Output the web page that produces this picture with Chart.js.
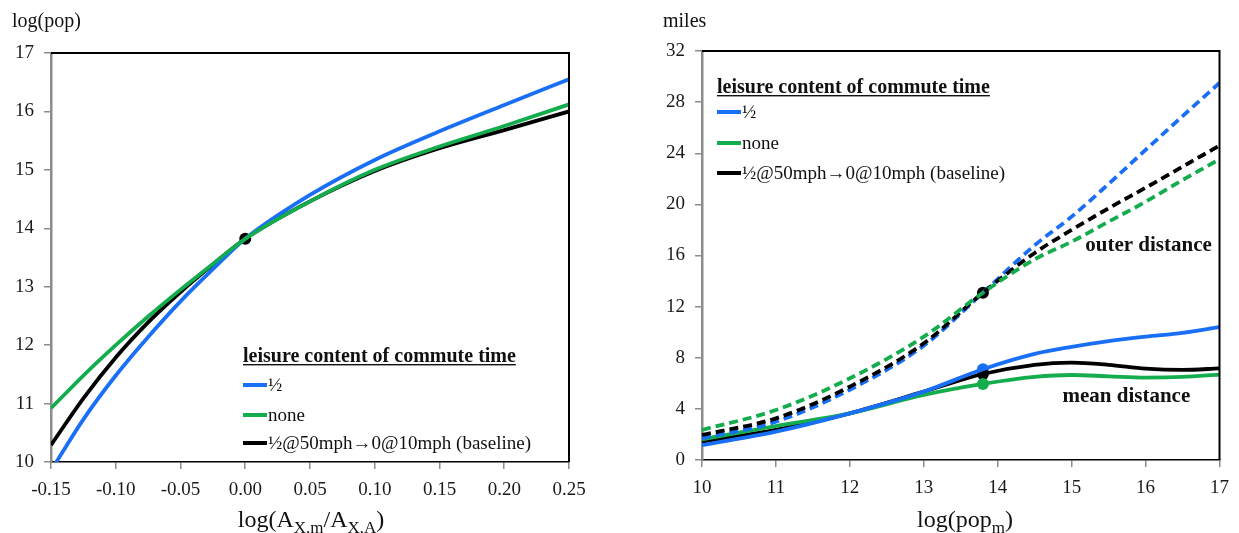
<!DOCTYPE html>
<html><head><meta charset="utf-8">
<script src="https://cdn.jsdelivr.net/npm/chart.js@4/dist/chart.umd.min.js"></script>
<style>
html,body{margin:0;padding:0;background:#fff;}
#wrap{position:relative;width:1239px;height:533px;overflow:hidden;}
.box{position:absolute;top:0;height:533px;}
</style></head><body>
<div id="wrap">
<div class="box" style="left:0;width:620px"><canvas id="c1"></canvas></div>
<div class="box" style="left:620px;width:619px"><canvas id="c2"></canvas></div>
</div>
<script>
// ---------- DATA ----------
const legendTitle = 'leisure content of commute time';
const seriesLabels = ['½', 'none', '½@50mph→0@10mph (baseline)'];
const seriesColors = ['#1a6ff7', '#14ad4e', '#000000'];

// Left chart: log(pop) vs log(A_X,m/A_X,A)
const leftX = [-0.15, -0.125, -0.10, -0.075, -0.05, -0.025, 0, 0.05, 0.10, 0.15, 0.20, 0.25];
const leftHalf = [9.85, 10.73, 11.48, 12.14, 12.75, 13.30, 13.82, 14.57, 15.17, 15.66, 16.11, 16.55];
const leftNone = [10.92, 11.48, 12.00, 12.49, 12.95, 13.39, 13.82, 14.46, 15.00, 15.40, 15.75, 16.12];
const leftBase = [10.29, 11.09, 11.79, 12.39, 12.91, 13.38, 13.82, 14.46, 14.98, 15.37, 15.68, 16.00];
const leftMarkerX = [0];
const leftMarkerY = [13.82];

// Right chart: miles vs log(pop_m)
const rightX = [10, 11, 12, 13, 13.8, 14.5, 15, 15.5, 16, 16.5, 17];
const outerHalf = [1.7, 3.0, 5.5, 8.95, 13.09, 16.8, 19.04, 21.6, 24.26, 26.9, 29.5];
const outerNone = [2.35, 3.91, 6.39, 9.65, 13.09, 15.7, 17.08, 18.65, 20.2, 21.9, 23.53];
const outerBase = [1.96, 3.26, 5.74, 9.13, 13.09, 16.2, 18.0, 19.7, 21.3, 22.95, 24.6];
const meanHalf = [1.17, 2.22, 3.65, 5.35, 7.1, 8.3, 8.85, 9.3, 9.65, 9.95, 10.4];
const meanNone = [1.62, 2.66, 3.65, 5.09, 5.95, 6.5, 6.65, 6.55, 6.45, 6.5, 6.68];
const meanBase = [1.43, 2.35, 3.65, 5.35, 6.73, 7.45, 7.62, 7.45, 7.15, 7.05, 7.17];
const rightMarkerX = [13.8, 13.8, 13.8, 13.8];
const rightMarkerY = [13.09, 7.1, 6.73, 5.95];
const rightMarkerColors = ['#000000', '#1a6ff7', '#000000', '#14ad4e'];
const outerLabel = 'outer distance';
const meanLabel = 'mean distance';

// ---------- helpers ----------
const FONT = '"Liberation Serif", "DejaVu Serif", serif';
const pts = (xs, ys) => xs.map((x, i) => ({x: x, y: ys[i]}));

function lineDS(label, xs, ys, color, dash) {
  return {label: label, data: pts(xs, ys), borderColor: color, backgroundColor: color,
    borderWidth: 3.8, pointRadius: 0, borderDash: dash || [], cubicInterpolationMode: 'monotone',
    fill: false, clip: 0, borderCapStyle: 'butt'};
}
function markerDS(xs, ys, colors) {
  return {label: 'marker', data: pts(xs, ys), showLine: false, pointRadius: 6, pointStyle: 'circle',
    backgroundColor: colors, borderColor: colors,
    pointBackgroundColor: colors, pointBorderColor: colors, pointBorderWidth: 0, clip: false};
}

function drawSubText(ctx, parts, cx, baseline, big, small) {
  let total = 0;
  parts.forEach(p => { ctx.font = (p.sub ? small : big) + 'px ' + FONT; p.w = ctx.measureText(p.t).width; total += p.w; });
  let x = cx - total / 2;
  ctx.fillStyle = '#111';
  ctx.textBaseline = 'alphabetic';
  ctx.textAlign = 'left';
  parts.forEach(p => {
    ctx.font = (p.sub ? small : big) + 'px ' + FONT;
    ctx.fillText(p.t, x, baseline + (p.sub ? 6 : 0));
    x += p.w;
  });
}

function makeDecor(opts) {
  return {
    id: 'decor',
    afterDraw(chart) {
      const ctx = chart.ctx, a = chart.chartArea;
      ctx.save();
      // frame top and right
      ctx.strokeStyle = '#000';
      ctx.lineWidth = 2;
      ctx.beginPath();
      ctx.moveTo(a.left, a.top); ctx.lineTo(a.right, a.top); ctx.lineTo(a.right, a.bottom);
      ctx.stroke();
      // y title
      ctx.fillStyle = '#111';
      ctx.font = opts.yTitleSize + 'px ' + FONT;
      ctx.textAlign = 'left'; ctx.textBaseline = 'alphabetic';
      ctx.fillText(opts.yTitle, opts.yTitleX, 27);
      // x title
      drawSubText(ctx, opts.xTitle, opts.xTitleCx, 527, 24, 17);
      // legend
      const L = opts.legend;
      ctx.font = 'bold 20px ' + FONT;
      ctx.textBaseline = 'middle';
      ctx.fillStyle = '#111';
      ctx.fillText(legendTitle, L.x, L.y);
      const tw = ctx.measureText(legendTitle).width;
      ctx.fillRect(L.x, L.y + 7, tw, 1.4);
      ctx.font = '19px ' + FONT;
      seriesLabels.forEach((lab, i) => {
        const y = L.y + L.gaps[i];
        ctx.strokeStyle = seriesColors[i];
        ctx.lineWidth = 4;
        ctx.setLineDash([]);
        ctx.beginPath(); ctx.moveTo(L.x, y); ctx.lineTo(L.x + 24, y); ctx.stroke();
        ctx.fillStyle = '#111';
        ctx.fillText(lab, L.x + 25, y + 1);
      });
      // annotations
      (opts.notes || []).forEach(n => {
        ctx.font = 'bold 21px ' + FONT;
        ctx.textAlign = 'center'; ctx.textBaseline = 'middle';
        ctx.fillStyle = '#111';
        ctx.fillText(n.t, chart.scales.x.getPixelForValue(n.x), chart.scales.y.getPixelForValue(n.y));
      });
      ctx.restore();
    }
  };
}

function axes(xmin, xmax, xstep, xfmt, ymin, ymax, ystep, yWidth, xHeight) {
  const tickFont = {family: FONT, size: 19};
  return {
    x: {type: 'linear', min: xmin, max: xmax,
      afterFit: s => { s.height = xHeight; },
      ticks: {stepSize: xstep, font: tickFont, color: '#1a1a1a', padding: 10, maxRotation: 0, autoSkip: false,
        callback: xfmt},
      grid: {drawOnChartArea: false, drawTicks: true, tickLength: 7, color: '#8c8c8c', lineWidth: 1.5},
      border: {color: '#000', width: 1.5}},
    y: {type: 'linear', min: ymin, max: ymax,
      afterFit: s => { s.width = yWidth; },
      ticks: {stepSize: ystep, font: tickFont, color: '#1a1a1a', padding: 10},
      grid: {drawOnChartArea: false, drawTicks: true, tickLength: 7, color: '#8c8c8c', lineWidth: 1.5},
      border: {color: '#8c8c8c', width: 2.5}}
  };
}

Chart.defaults.font.family = FONT;

// ---------- left chart ----------
new Chart(document.getElementById('c1'), {
  type: 'line',
  data: {datasets: [
    lineDS(seriesLabels[1], leftX, leftNone, seriesColors[1]),
    lineDS(seriesLabels[0], leftX, leftHalf, seriesColors[0]),
    lineDS(seriesLabels[2], leftX, leftBase, seriesColors[2]),
    markerDS(leftMarkerX, leftMarkerY, ['#000'])
  ]},
  options: {
    responsive: true, maintainAspectRatio: false, animation: false, devicePixelRatio: 1,
    layout: {padding: {top: 53, right: 51, left: 0, bottom: 0}},
    plugins: {legend: {display: false}, tooltip: {enabled: false}},
    scales: axes(-0.15, 0.25, 0.05, v => {
      const r = Math.round(v * 100) / 100; return (r === 0 ? 0 : r).toFixed(2);
    }, 10, 17, 1, 51, 71)
  },
  plugins: [makeDecor({
    yTitle: 'log(pop)', yTitleX: 12, yTitleSize: 20,
    xTitle: [{t: 'log(A'}, {t: 'X,m', sub: true}, {t: '/A'}, {t: 'X,A', sub: true}, {t: ')'}],
    xTitleCx: 311,
    legend: {x: 243, y: 357, gaps: [28, 58, 86]}
  })]
});

// ---------- right chart ----------
new Chart(document.getElementById('c2'), {
  type: 'line',
  data: {datasets: [
    lineDS(seriesLabels[1] + ' outer', rightX, outerNone, seriesColors[1], [9, 5]),
    lineDS(seriesLabels[2] + ' outer', rightX, outerBase, seriesColors[2], [9, 5]),
    lineDS(seriesLabels[0] + ' outer', rightX, outerHalf, seriesColors[0], [9, 5]),
    lineDS(seriesLabels[0] + ' mean', rightX, meanHalf, seriesColors[0]),
    lineDS(seriesLabels[1] + ' mean', rightX, meanNone, seriesColors[1]),
    lineDS(seriesLabels[2] + ' mean', rightX, meanBase, seriesColors[2]),
    markerDS(rightMarkerX, rightMarkerY, rightMarkerColors)
  ]},
  options: {
    responsive: true, maintainAspectRatio: false, animation: false, devicePixelRatio: 1,
    layout: {padding: {top: 51, right: 12, left: 0, bottom: 0}},
    plugins: {legend: {display: false}, tooltip: {enabled: false}},
    scales: axes(10, 17, 1, v => String(Math.round(v)), 0, 32, 4, 82, 73)
  },
  plugins: [makeDecor({
    yTitle: 'miles', yTitleX: 43, yTitleSize: 20,
    xTitle: [{t: 'log(pop'}, {t: 'm', sub: true}, {t: ')'}],
    xTitleCx: 345,
    legend: {x: 97, y: 88, gaps: [24, 55, 85]},
    notes: [{t: outerLabel, x: 16.04, y: 16.75}, {t: meanLabel, x: 15.74, y: 4.93}]
  })]
});
</script>
</body></html>
